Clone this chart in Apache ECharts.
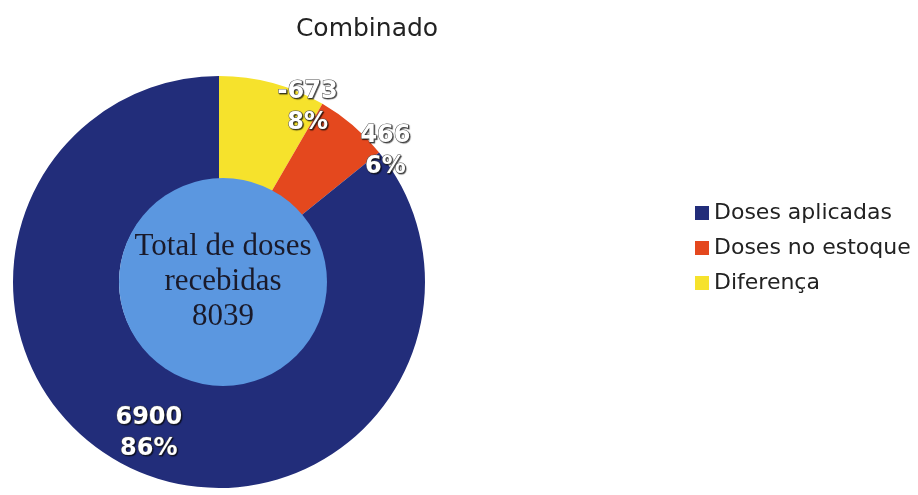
<!DOCTYPE html>
<html>
<head>
<meta charset="utf-8">
<script src="https://cdn.jsdelivr.net/npm/echarts@6/dist/echarts.min.js"></script>
<style>
  html, body { margin: 0; padding: 0; background: #fff; }
  #chart { width: 918px; height: 495px; }
</style>
</head>
<body>
<div id="chart"></div>
<script>
// dados do gráfico
const categorias = ["Diferença", "Doses no estoque", "Doses aplicadas"];
const valores = [-673, 466, 6900];
const cores = ["#f6e22c", "#e4481e", "#222d7a"];
const ordemLegenda = ["Doses aplicadas", "Doses no estoque", "Diferença"];
const totalRecebidas = 8039;
const rotuloTotal = "Total de doses\nrecebidas";

// deslocamento dos rótulos (como no original)
const ajusteRotulo = [[48, -24], [65, -12], [-3, 10]];

let chart = echarts.init(document.getElementById("chart"));
chart.setOption({
  animation: false,
  title: {
    text: "Combinado",
    left: 362,
    top: 12,
    textAlign: "center",
    textStyle: {
      fontFamily: "DejaVu Sans",
      fontSize: 25,
      fontWeight: "normal",
      color: "#222"
    }
  },
  legend: {
    orient: "vertical",
    left: 690,
    top: 197,
    icon: "rect",
    itemWidth: 14,
    itemHeight: 14,
    itemGap: 13,
    data: ordemLegenda,
    textStyle: {
      fontFamily: "DejaVu Sans",
      fontSize: 22,
      color: "#222"
    }
  },
  series: [
    {
      type: "pie",
      center: [219, 282],
      radius: [100, 206],
      startAngle: 90,
      clockwise: true,
      silent: true,
      data: categorias.map((c, i) => ({
        name: c,
        value: Math.abs(valores[i]),
        raw: valores[i],
        itemStyle: { color: cores[i] }
      })),
      label: {
        show: true,
        position: "inside",
        formatter: p => p.data.raw + "\n" + Math.round(p.percent) + "%",
        fontFamily: "DejaVu Sans",
        fontWeight: "bold",
        fontSize: 24,
        lineHeight: 31,
        color: "#fff",
        textBorderColor: "#555",
        textBorderWidth: 1,
        textShadowColor: "rgba(0,0,0,0.6)",
        textShadowOffsetX: 1,
        textShadowOffsetY: 1,
        textShadowBlur: 1
      },
      labelLayout: p => ({ dx: ajusteRotulo[p.dataIndex][0], dy: ajusteRotulo[p.dataIndex][1] }),
      labelLine: { show: false }
    },
    {
      type: "pie",
      center: [223, 282],
      radius: [0, 104],
      silent: true,
      data: [{ name: "Total", value: totalRecebidas, itemStyle: { color: "#5b97e0" } }],
      label: {
        show: true,
        position: "center",
        formatter: rotuloTotal + "\n" + totalRecebidas,
        fontFamily: "Liberation Serif",
        fontSize: 31,
        lineHeight: 35,
        color: "#1a1a2a"
      },
      labelLine: { show: false }
    }
  ]
});
</script>
</body>
</html>
